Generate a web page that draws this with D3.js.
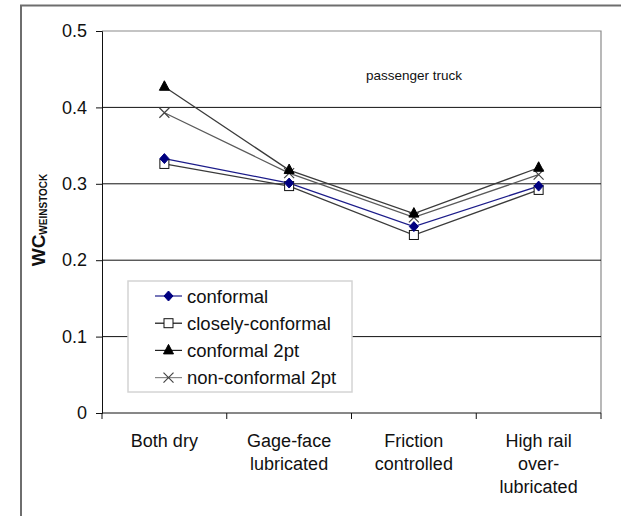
<!DOCTYPE html>
<html>
<head>
<meta charset="utf-8">
<script src="https://cdn.jsdelivr.net/npm/d3@7"></script>
<style>
  html, body { margin: 0; padding: 0; background: #fff; }
  svg { display: block; font-family: "Liberation Sans", Arial, sans-serif; }
</style>
</head>
<body>
<svg id="chart" width="621" height="516"></svg>
<script>
// Lubrication conditions along the x axis (multi-line labels)
const categories = ["Both dry", "Gage-face lubricated", "Friction controlled", "High rail over-lubricated"];
const categoryLines = [["Both dry"], ["Gage-face", "lubricated"], ["Friction", "controlled"], ["High rail", "over-", "lubricated"]];

// Wear coefficient per profile pair
const conformal = [0.333, 0.301, 0.244, 0.297];
const closelyConformal = [0.326, 0.297, 0.233, 0.292];
const conformal2pt = [0.427, 0.318, 0.261, 0.321];
const nonConformal2pt = [0.393, 0.314, 0.256, 0.312];

const yTicks = [0, 0.1, 0.2, 0.3, 0.4, 0.5];

const series = [
  { name: "conformal", values: conformal, line: "#1c1c8a", legendLine: "#1c1c8a", marker: "diamond" },
  { name: "closely-conformal", values: closelyConformal, line: "#3a3a3a", legendLine: "#111", marker: "square" },
  { name: "conformal 2pt", values: conformal2pt, line: "#3a3a3a", legendLine: "#222", marker: "triangle" },
  { name: "non-conformal 2pt", values: nonConformal2pt, line: "#5a5a5a", legendLine: "#888", marker: "cross" }
];

const svg = d3.select("#chart");
const plot = { left: 102, right: 601, top: 31, bottom: 413 };

// Outer frame (runs off the bottom/right edges)
svg.append("path")
  .attr("d", `M21,520 V5.5 H625`)
  .attr("fill", "none").attr("stroke", "#6e6e6e").attr("stroke-width", 2);

const x = d3.scaleBand().domain(categories).range([plot.left, plot.right]).paddingInner(0).paddingOuter(0);
const cx = c => x(c) + x.bandwidth() / 2;
const y = d3.scaleLinear().domain([0, 0.5]).range([plot.bottom, plot.top]);

// Plot border: top and right in grey
svg.append("path")
  .attr("d", `M${plot.left},${y(0.5)} H${plot.right} V${plot.bottom}`)
  .attr("fill", "none").attr("stroke", "#8a8a8a").attr("stroke-width", 1.2);

// Horizontal gridlines
svg.append("g").selectAll("line")
  .data(yTicks.filter(t => t > 0 && t < 0.5))
  .join("line")
  .attr("x1", plot.left).attr("x2", plot.right)
  .attr("y1", d => y(d)).attr("y2", d => y(d))
  .attr("stroke", "#111").attr("stroke-width", 1);

// Y axis
const yAxis = svg.append("g")
  .attr("transform", `translate(${plot.left},0)`)
  .call(d3.axisLeft(y).tickValues(yTicks).tickFormat(d => d === 0 ? "0" : d3.format(".1f")(d)).tickSize(6).tickPadding(9));
yAxis.select(".domain").attr("stroke", "#111");
yAxis.selectAll(".tick line").attr("stroke", "#111");
yAxis.selectAll("text").attr("font-size", 18).attr("fill", "#111").attr("font-family", "Liberation Sans, Arial, sans-serif");

// X axis with ticks at category boundaries
const bounds = categories.map(c => x(c)).concat([plot.right]);
svg.append("line")
  .attr("x1", plot.left).attr("x2", plot.right)
  .attr("y1", plot.bottom).attr("y2", plot.bottom)
  .attr("stroke", "#111");
svg.append("g").selectAll("line").data(bounds).join("line")
  .attr("x1", d => d).attr("x2", d => d)
  .attr("y1", plot.bottom).attr("y2", plot.bottom + 6)
  .attr("stroke", "#111");

const xl = svg.append("g").selectAll("text").data(categories).join("text")
  .attr("x", d => cx(d)).attr("y", 447)
  .attr("text-anchor", "middle").attr("font-size", 18).attr("fill", "#111");
xl.each(function(d, i) {
  d3.select(this).selectAll("tspan").data(categoryLines[i]).join("tspan")
    .attr("x", cx(d)).attr("dy", (t, j) => j === 0 ? 0 : 23).text(t => t);
});

// Y axis title: WC with subscript
const yt = svg.append("text")
  .attr("transform", "translate(45,220) rotate(-90)")
  .attr("text-anchor", "middle").attr("font-weight", "bold").attr("fill", "#111");
yt.append("tspan").attr("font-size", 19).text("WC");
yt.append("tspan").attr("font-size", 10).attr("dy", 2).text("WEINSTOCK");

// Annotation
svg.append("text").attr("x", 414).attr("y", 80).attr("text-anchor", "middle")
  .attr("font-size", 13.5).attr("fill", "#111").text("passenger truck");

// Marker drawing
function drawMarker(g, type, px, py) {
  if (type === "diamond") {
    g.append("path").attr("d", `M${px},${py - 5} L${px + 4.5},${py} L${px},${py + 5} L${px - 4.5},${py} Z`)
      .attr("fill", "#000080").attr("stroke", "#000080");
  } else if (type === "square") {
    g.append("rect").attr("x", px - 4.5).attr("y", py - 4.5).attr("width", 9).attr("height", 9)
      .attr("fill", "#fff").attr("stroke", "#111").attr("stroke-width", 1);
  } else if (type === "triangle") {
    g.append("path").attr("d", `M${px},${py - 6} L${px + 5},${py + 3.5} L${px - 5},${py + 3.5} Z`)
      .attr("fill", "#000").attr("stroke", "#000");
  } else if (type === "cross") {
    g.append("path").attr("d", `M${px - 5},${py - 5} L${px + 5},${py + 5} M${px - 5},${py + 5} L${px + 5},${py - 5}`)
      .attr("stroke", "#444").attr("stroke-width", 1.2);
  }
}

const line = d3.line().x((d, i) => cx(categories[i])).y(d => y(d));

// Series lines and markers (non-conformal first, conformal on top)
const order = [3, 2, 1, 0];
order.forEach(k => {
  const s = series[k];
  svg.append("path").datum(s.values)
    .attr("d", line).attr("fill", "none")
    .attr("stroke", s.line).attr("stroke-width", 1.3);
});
order.forEach(k => {
  const s = series[k];
  const g = svg.append("g");
  s.values.forEach((v, i) => drawMarker(g, s.marker, cx(categories[i]), y(v)));
});

// Legend
const lg = svg.append("g");
lg.append("rect").attr("x", 128).attr("y", 281).attr("width", 224).attr("height", 111)
  .attr("fill", "#fff").attr("stroke", "#d4d4d4").attr("stroke-width", 1.5);
series.forEach((s, i) => {
  const ly = 296 + i * 27.2;
  lg.append("line").attr("x1", 155).attr("x2", 182).attr("y1", ly).attr("y2", ly)
    .attr("stroke", s.legendLine).attr("stroke-width", 1.2);
  drawMarker(lg, s.marker, 168.5, ly);
  lg.append("text").attr("x", 187).attr("y", ly + 6.5).attr("font-size", 18.5).attr("fill", "#111").text(s.name);
});
</script>
</body>
</html>
